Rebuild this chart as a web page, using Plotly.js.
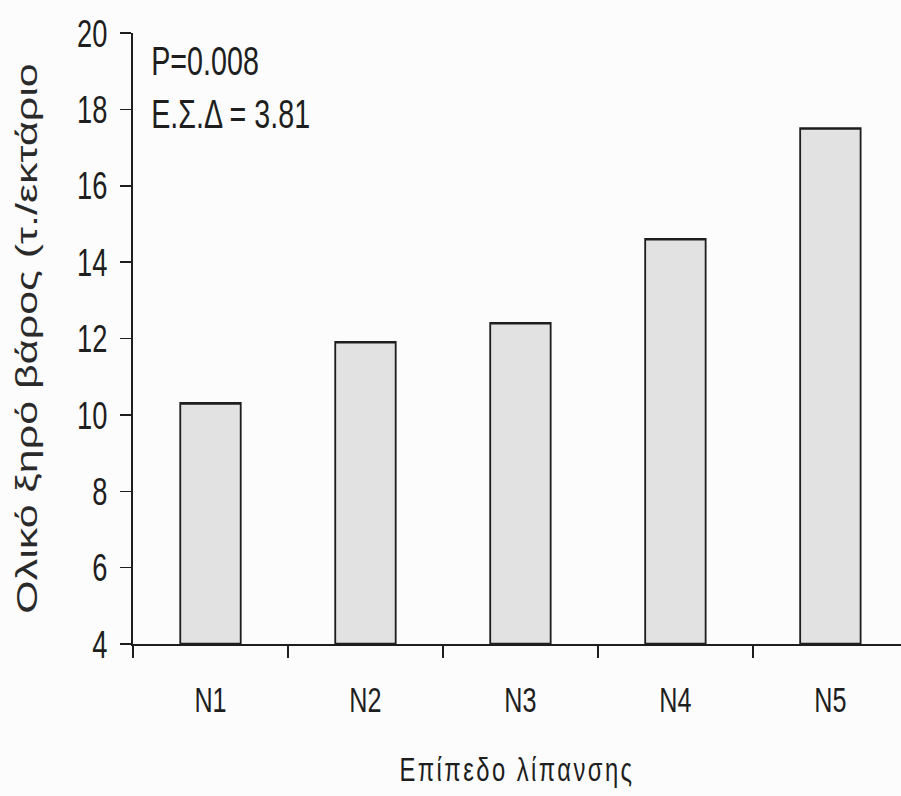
<!DOCTYPE html>
<html>
<head>
<meta charset="utf-8">
<script src="https://cdn.plot.ly/plotly-3.0.1.min.js"></script>
<style>
  html, body { margin: 0; padding: 0; background: #fcfcfc; overflow: hidden; }
  /* the figure is laid out wide and then compressed horizontally,
     giving the tall, narrow lettering of the printed figure */
  #chart { width: 1287px; height: 796px; transform: scaleX(0.7); transform-origin: 0 0; }
  .xtitle { letter-spacing: 3.5px; }
</style>
</head>
<body>
<div id="chart"></div>
<script>
// Fertilisation levels and total dry weight (t/ha)
const levels = ['N1', 'N2', 'N3', 'N4', 'N5'];
const dryWeight = [10.3, 11.9, 12.4, 14.6, 17.5];
const yTicks = [4, 6, 8, 10, 12, 14, 16, 18, 20];
const statsLines = ['P=0.008', 'Ε.Σ.Δ = 3.81'];

const font = 'Liberation Sans, Arial, Helvetica, sans-serif';
const ink = '#1e1e1e';
const floor = 4;

const trace = {
  type: 'bar',
  x: levels,
  y: dryWeight.map(v => v - floor),
  base: floor,
  width: 0.39,
  marker: { color: '#e2e2e2', line: { color: ink, width: 2.6 } },
  customdata: dryWeight,
  hovertemplate: '%{x}: %{customdata}<extra></extra>'
};

const layout = {
  width: 1287,
  height: 796,
  margin: { l: 190, r: 0, t: 33, b: 152 },
  paper_bgcolor: '#fcfcfc',
  plot_bgcolor: '#fcfcfc',
  showlegend: false,
  xaxis: {
    type: 'category',
    range: [-0.5, 4.455],
    tickson: 'boundaries',
    ticks: 'outside',
    ticklen: 12,
    tickwidth: 2,
    tickcolor: ink,
    showline: true,
    linecolor: ink,
    linewidth: 2,
    showgrid: false,
    zeroline: false,
    tickfont: { family: font, size: 36, color: ink },
    ticklabelstandoff: 23,
    title: {
      text: 'Επίπεδο λίπανσης',
      font: { family: font, size: 34, color: ink },
      standoff: 38
    },
    automargin: false
  },
  yaxis: {
    range: [4, 20],
    tickvals: yTicks,
    ticktext: yTicks.map(String),
    ticks: 'outside',
    ticklen: 16,
    tickwidth: 1.5,
    tickcolor: ink,
    showline: true,
    linecolor: ink,
    linewidth: 2.8,
    showgrid: false,
    zeroline: false,
    tickfont: { family: font, size: 39, color: ink },
    ticklabelstandoff: 10,
    title: {
      text: 'Ολικό ξηρό βάρος (τ./εκτάριο',
      font: { family: font, size: 43, color: '#2a2a2a' },
      standoff: 44
    },
    automargin: false
  },
  annotations: statsLines.map((t, i) => ({
    text: t,
    xref: 'paper', yref: 'paper',
    x: 0, y: 1,
    xanchor: 'left', yanchor: 'middle',
    xshift: 24,
    yshift: -28 - i * 53,
    showarrow: false,
    font: { family: font, size: 41, color: ink }
  }))
};

Plotly.newPlot('chart', [trace], layout, { displayModeBar: false, staticPlot: true });
</script>
</body>
</html>
